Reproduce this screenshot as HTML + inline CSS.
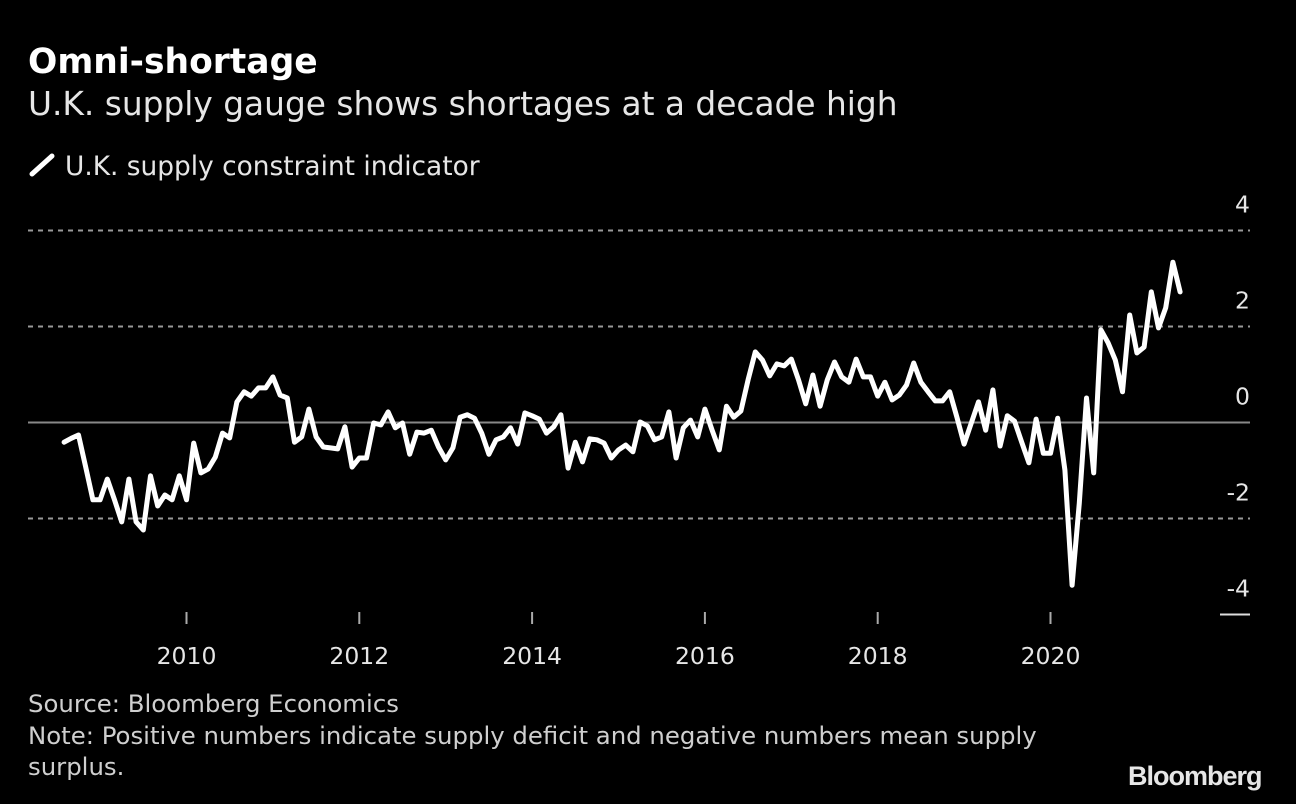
<!DOCTYPE html>
<html><head><meta charset="utf-8"><style>
html,body{margin:0;padding:0;background:#000;}
body{width:1296px;height:804px;position:relative;overflow:hidden;font-family:"DejaVu Sans","Liberation Sans",sans-serif;color:#fff;}
.t{position:absolute;white-space:nowrap;}
</style></head><body>
<div class="t" style="left:28px;top:42px;font-size:34.5px;font-weight:bold;">Omni-shortage</div>
<div class="t" style="left:28px;top:85px;font-size:32.8px;color:#e6e6e6;">U.K. supply gauge shows shortages at a decade high</div>
<div class="t" style="left:28px;top:151px;font-size:26.4px;color:#e6e6e6;"><svg width="30" height="26" style="vertical-align:-3px;margin-right:7px"><line x1="4" y1="22" x2="24" y2="4" stroke="#fff" stroke-width="5" stroke-linecap="round"/></svg>U.K. supply constraint indicator</div>
<svg id="chart" width="1296" height="804" style="position:absolute;left:0;top:0"></svg>
<div class="t" style="left:28px;top:689px;font-size:24.4px;color:#cfcfcf;">Source: Bloomberg Economics</div>
<div class="t" style="left:28px;top:720px;font-size:24.4px;color:#cfcfcf;line-height:31px;white-space:normal;width:1040px;">Note: Positive numbers indicate supply deficit and negative numbers mean supply surplus.</div>
<div class="t" style="left:1128px;top:761px;font-size:27px;font-weight:bold;color:#e6e6e6;letter-spacing:-1px;font-family:'Liberation Sans',sans-serif;">Bloomberg</div>
<script>
const startYear = 2008, startMonth = 8;
const values = [-0.41,-0.33,-0.26,-0.93,-1.61,-1.61,-1.18,-1.61,-2.07,-1.18,-2.07,-2.24,-1.11,-1.74,-1.51,-1.61,-1.11,
-1.61,-0.43,-1.05,-0.97,-0.72,-0.22,-0.32,0.43,0.64,0.55,0.72,0.72,0.95,0.57,0.51,-0.41,-0.30,0.28,-0.30,-0.51,-0.53,-0.55,-0.09,-0.93,
-0.74,-0.74,-0.01,-0.05,0.22,-0.11,-0.01,-0.66,-0.20,-0.22,-0.16,-0.51,-0.78,-0.53,0.11,0.16,0.09,-0.22,-0.66,-0.36,-0.30,-0.11,-0.45,0.20,0.14,0.07,-0.22,-0.09,0.16,-0.95,-0.41,-0.82,-0.34,-0.36,-0.43,-0.74,-0.57,-0.47,-0.61,0.01,-0.07,-0.36,-0.30,0.22,-0.74,-0.11,0.05,-0.30,0.28,-0.16,-0.57,
0.34,0.11,0.24,0.89,1.47,1.30,0.97,1.22,1.18,1.32,0.89,0.39,0.99,0.34,0.89,1.26,0.95,0.84,1.32,0.95,0.95,0.55,0.84,0.47,0.57,0.78,1.24,0.84,0.64,0.45,0.45,0.64,0.11,-0.45,-0.01,0.43,-0.16,0.68,-0.49,0.14,0.03,-0.41,-0.84,0.07,-0.64,-0.64,
0.09,-0.99,-3.39,-1.68,0.51,-1.05,1.93,1.66,1.30,0.64,2.24,1.45,1.57,2.72,1.97,2.39,3.34,2.72];
const yTicks = [4,2,0,-2,-4];
const xTicks = [2010,2012,2014,2016,2018,2020];
const NS='http://www.w3.org/2000/svg';
const svg=document.getElementById('chart');
const x=yr=>186.5+(yr-2010)*86.4;
const y=v=>422.5-v*48;
function mk(tag,attrs){const e=document.createElementNS(NS,tag);for(const k in attrs)e.setAttribute(k,attrs[k]);svg.appendChild(e);return e;}
yTicks.forEach(v=>{
  let l;
  if(v===0){l=mk('line',{x1:28,x2:1250,y1:y(v),y2:y(v),stroke:'#888','stroke-width':2});}
  else if(v===-4){l=mk('line',{x1:1220,x2:1250,y1:y(v),y2:y(v),stroke:'#ddd','stroke-width':2});}
  else {l=mk('line',{x1:28,x2:1250,y1:y(v),y2:y(v),stroke:'#999','stroke-width':2,'stroke-dasharray':'5,5'});}
  
  
  const t=mk('text',{x:1250,y:y(v)-18,'text-anchor':'end','font-size':23.5,fill:'#e6e6e6','font-family':'DejaVu Sans, sans-serif'});
  t.textContent=v;
  
  
});
xTicks.forEach(yr=>{
  const l=mk('line',{x1:x(yr),x2:x(yr),y1:612,y2:624,stroke:'#aaa','stroke-width':2});
  
  
  const t=mk('text',{x:x(yr),y:664,'text-anchor':'middle','font-size':23.5,fill:'#e6e6e6','font-family':'DejaVu Sans, sans-serif'});
  t.textContent=yr;
  
  
});
const pts=values.map((v,i)=>{const yr=startYear+(startMonth-1+i)/12;return x(yr).toFixed(1)+','+y(v).toFixed(1);});
const p=mk('polyline',{points:pts.join(' '),fill:'none',stroke:'#fff','stroke-width':5,'stroke-linejoin':'round','stroke-linecap':'round'});


</script>
</body></html>
